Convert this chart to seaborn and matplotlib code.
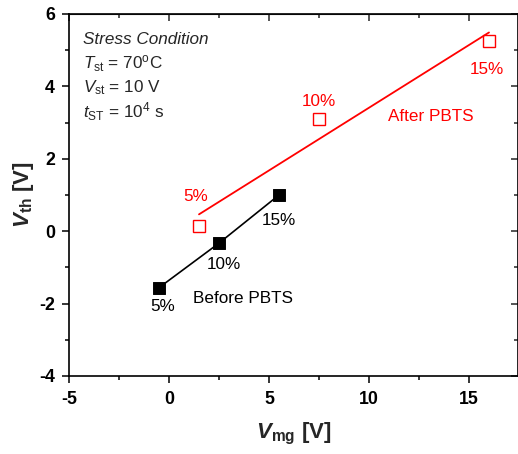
import numpy as np
import pandas as pd
import matplotlib
matplotlib.use("Agg")
import matplotlib.pyplot as plt
import seaborn as sns
from matplotlib.ticker import MultipleLocator

# ---- data ----
strain_labels = ["5%", "10%", "15%"]
vmg_before = [-0.5, 2.5, 5.5]
vth_before = [-1.56, -0.33, 1.0]
vmg_after = [1.5, 7.5, 16.0]
vth_after = [0.14, 3.1, 5.26]

sns.set_style("ticks")
plt.rcParams["font.family"] = ["Liberation Sans", "DejaVu Sans"]
plt.rcParams["axes.unicode_minus"] = False
plt.rcParams["mathtext.fontset"] = "custom"
plt.rcParams["mathtext.rm"] = "Liberation Sans"
plt.rcParams["mathtext.it"] = "Liberation Sans:italic"
plt.rcParams["mathtext.bf"] = "Liberation Sans:bold"
try:
    plt.rcParams["mathtext.bfit"] = "Liberation Sans:italic:bold"
except KeyError:
    pass

fig = plt.figure(figsize=(5.18, 4.54), dpi=100)
ax = fig.add_axes([69 / 518, 78 / 454, 449 / 518, 362 / 454])

df_b = pd.DataFrame({"x": vmg_before, "y": vth_before})
df_a = pd.DataFrame({"x": vmg_after, "y": vth_after})

# before: line through points with filled squares
sns.lineplot(data=df_b, x="x", y="y", ax=ax, color="black", lw=1.2, sort=False)
sns.scatterplot(data=df_b, x="x", y="y", ax=ax, marker="s", s=70, color="black",
                edgecolor="black", zorder=5)

# after: linear fit line + open squares
coef = np.polyfit(vmg_after, vth_after, 1)
fit_x = np.array([min(vmg_after), max(vmg_after)])
df_fit = pd.DataFrame({"x": fit_x, "y": np.polyval(coef, fit_x)})
sns.lineplot(data=df_fit, x="x", y="y", ax=ax, color="red", lw=1.3)
ax.plot(vmg_after, vth_after, ls="none", marker="s", ms=8.5, mfc="none",
        mec="red", mew=1.0, zorder=5)

fs = 12.3
# point labels
b_off = [(0.2, -0.52), (0.25, -0.58), (0.0, -0.7)]
for lab, x, y, (dx, dy) in zip(strain_labels, vmg_before, vth_before, b_off):
    ax.text(x + dx, y + dy, lab, color="black", fontsize=fs, ha="center", va="center")
a_off = [(-0.15, 0.83), (0.0, 0.48), (-0.1, -0.79)]
for lab, x, y, (dx, dy) in zip(strain_labels, vmg_after, vth_after, a_off):
    ax.text(x + dx, y + dy, lab, color="red", fontsize=fs, ha="center", va="center")

ax.text(1.2, -1.86, "Before PBTS", color="black", fontsize=fs, ha="left", va="center")
ax.text(10.95, 3.17, "After PBTS", color="red", fontsize=fs, ha="left", va="center")

# stress condition block
ax.text(-4.3, 5.3, "Stress Condition", fontsize=fs, style="italic", ha="left", va="center")
ax.text(-4.3, 4.62, r"$T_{\rm st}$ = 70$^{\rm o}$C", fontsize=fs, ha="left", va="center")
ax.text(-4.3, 3.97, r"$V_{\rm st}$ = 10 V", fontsize=fs, ha="left", va="center")
ax.text(-4.3, 3.3, r"$t_{\rm ST}$ = 10$^{4}$ s", fontsize=fs, ha="left", va="center")

ax.set_xlim(-5, 17.45)
ax.set_ylim(-4, 6)
ax.xaxis.set_major_locator(MultipleLocator(5))
ax.xaxis.set_minor_locator(MultipleLocator(2.5))
ax.yaxis.set_major_locator(MultipleLocator(2))
ax.yaxis.set_minor_locator(MultipleLocator(1))

for s in ax.spines.values():
    s.set_visible(True)
    s.set_linewidth(1.2)
    s.set_color("black")

ax.tick_params(which="both", bottom=True, left=True, top=False, right=False,
               direction="out", width=1.1, colors="black")
ax.tick_params(which="major", length=5, labelsize=12.8)
ax.tick_params(axis="x", which="major", pad=6)
ax.tick_params(axis="y", which="major", pad=5)
ax.tick_params(which="minor", length=3)
for t in ax.get_xticklabels() + ax.get_yticklabels():
    t.set_fontweight("bold")

# inward ticks on top/right
sec_x = ax.secondary_xaxis("top")
sec_x.xaxis.set_major_locator(MultipleLocator(5))
sec_x.xaxis.set_minor_locator(MultipleLocator(2.5))
sec_x.tick_params(which="both", direction="in", labeltop=False, width=1.1)
sec_x.tick_params(which="major", length=5)
sec_x.tick_params(which="minor", length=3)
sec_y = ax.secondary_yaxis("right")
sec_y.yaxis.set_major_locator(MultipleLocator(2))
sec_y.yaxis.set_minor_locator(MultipleLocator(1))
sec_y.tick_params(which="both", direction="in", labelright=False, width=1.1)
sec_y.tick_params(which="major", length=5)
sec_y.tick_params(which="minor", length=3)

ax.set_xlabel(r"$\mathbfit{V}_{\mathbf{mg}}$ [V]", fontsize=16, fontweight="bold", labelpad=9)
ax.set_ylabel(r"$\mathbfit{V}_{\mathbf{th}}$ [V]", fontsize=16, fontweight="bold", labelpad=2)

fig.savefig("out.png", dpi=100)
